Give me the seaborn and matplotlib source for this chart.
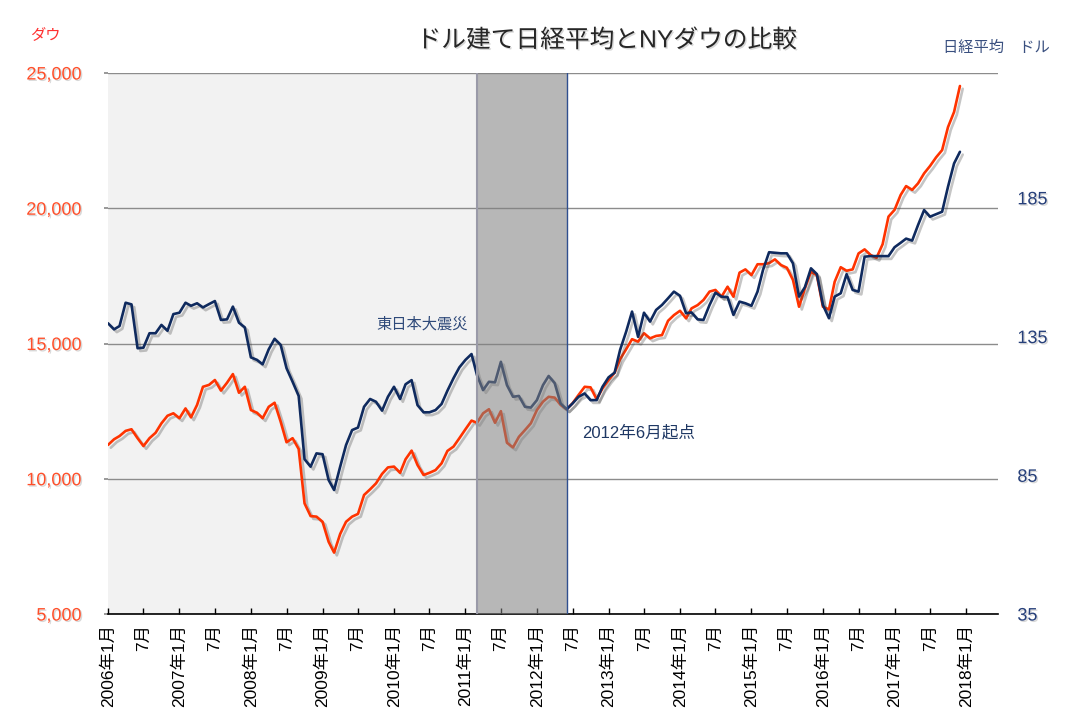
import matplotlib
matplotlib.use("Agg")
import matplotlib.pyplot as plt
import matplotlib.patheffects as pe
import pandas as pd
import seaborn as sns

# NY Dow (left axis), monthly 2006-01 .. 2017-12
dow = [
    11250, 11460, 11580, 11770, 11830, 11500, 11210, 11500, 11700, 12050, 12330, 12420,
    12240, 12600, 12270, 12730, 13400, 13470, 13650, 13260, 13550, 13870, 13180, 13400,
    12540, 12440, 12240, 12660, 12810, 12110, 11350, 11500, 11100, 9090, 8620, 8600,
    8410, 7670, 7270, 7960, 8410, 8600, 8700, 9400, 9610, 9830, 10180, 10420,
    10450, 10220, 10720, 11040, 10510, 10140, 10220, 10320, 10570, 11030, 11190, 11500,
    11830, 12150, 12070, 12420, 12570, 12070, 12500, 11330, 11160, 11550, 11800, 12050,
    12540, 12850, 13030, 13000, 12730, 12570, 12790, 13100, 13400, 13380, 12940, 13340,
    13650, 13920, 14420, 14790, 15160, 15070, 15380, 15190, 15280, 15310, 15840, 16050,
    16210, 15930, 16300, 16420, 16610, 16920, 16980, 16730, 17100, 16730, 17620, 17740,
    17530, 17930, 17930, 17970, 18110, 17900, 17800, 17350, 16360, 17040, 17650, 17530,
    16360, 16260, 17280, 17820, 17690, 17740, 18330, 18480, 18270, 18170, 18670, 19690,
    19940, 20490, 20820, 20680, 20920, 21290, 21560, 21880, 22150, 23000, 23560, 24520,
]

# Nikkei in dollars (right axis)
nikkei_usd = [
    139.8, 137.6, 138.8, 147.2, 146.6, 130.8, 131.0, 136.2, 136.2, 139.2, 137.1, 143.1,
    143.6, 147.2, 146.1, 147.0, 145.5, 146.7, 147.8, 141.0, 141.2, 145.8, 140.0, 138.3,
    127.5, 126.6, 125.0, 130.4, 134.2, 132.0, 123.6, 118.7, 113.6, 90.8, 88.1, 92.9,
    92.6, 83.3, 79.7, 88.1, 95.9, 101.3, 102.2, 109.7, 112.5, 111.5, 108.3, 113.3,
    116.9, 112.5, 117.8, 119.3, 110.3, 107.7, 107.7, 108.5, 110.7, 115.5, 120.0, 123.9,
    126.6, 128.7, 121.1, 115.7, 118.7, 118.5, 125.9, 117.5, 113.3, 113.6, 109.7, 109.4,
    112.1, 117.5, 120.8, 118.2, 110.9, 108.8, 110.9, 113.3, 114.5, 112.1, 112.1, 116.9,
    120.3, 122.0, 130.2, 136.8, 144.0, 134.9, 143.6, 140.4, 144.6, 146.4, 148.8, 151.2,
    149.7, 143.4, 143.7, 141.2, 141.0, 146.4, 150.8, 149.4, 149.2, 142.8, 147.6, 147.0,
    146.1, 151.2, 159.0, 165.4, 165.2, 165.0, 165.0, 161.4, 149.4, 152.8, 159.6, 157.5,
    146.4, 141.6, 149.4, 150.6, 157.5, 151.8, 151.2, 163.8, 164.0, 164.0, 164.0, 164.0,
    167.2, 168.8, 170.3, 169.6, 175.2, 180.6, 178.2, 179.1, 180.0, 189.0, 197.4, 201.6,
]

months = pd.date_range("2006-01-01", periods=len(dow), freq="MS")
tick_dates = pd.date_range("2006-01-01", "2018-01-01", freq="6MS")
tick_labels = [f"{d.year}年1月" if d.month == 1 else "7月" for d in tick_dates]
left_ticks = [5000, 10000, 15000, 20000, 25000]
right_ticks = [35, 85, 135, 185]
quake = pd.Timestamp("2011-03-01")
base = pd.Timestamp("2012-06-01")

df = pd.DataFrame({"month": months, "dow": dow, "nikkei": nikkei_usd})

sns.set_theme(style="white")
plt.rcParams["font.family"] = ["Liberation Sans", "Noto Sans CJK JP"]

fig = plt.figure(figsize=(10.8, 7.2), dpi=100)
ax = fig.add_axes([0.1, 0.1472, 0.824, 0.7514])
ax2 = ax.twinx()

line_fx = [pe.SimpleLineShadow(offset=(2, -2), shadow_color="#404040", alpha=0.3), pe.Normal()]
text_fx = [pe.withSimplePatchShadow(offset=(1, -1), shadow_rgbFace="#909090", alpha=0.35)]

ax.axvspan(months[0], quake, color="#f2f2f2", lw=0, zorder=0)
sns.lineplot(data=df, x="month", y="dow", ax=ax, color="#ff3300", lw=1.9,
             path_effects=line_fx, zorder=2)
sns.lineplot(data=df, x="month", y="nikkei", ax=ax2, color="#0f2a5e", lw=1.9,
             path_effects=line_fx, zorder=2)

# shaded period after the earthquake (drawn over the lines)
ax2.axvspan(quake, base, color="#808080", alpha=0.56, lw=0, zorder=3)
ax2.axvline(quake, color="#9a9aa8", lw=1.5, zorder=3)
ax2.axvline(base, color="#2f4f8f", lw=1, zorder=3)

ax.set_xlim(months[0], pd.Timestamp("2018-06-13"))
ax.set_ylim(5000, 25000)
ax2.set_ylim(35, 230)

ax.set_yticks(left_ticks)
ax.set_yticklabels([f"{v:,}" for v in left_ticks])
ax2.set_yticks(right_ticks)
ax2.set_yticklabels([str(v) for v in right_ticks])
ax.set_xticks(tick_dates)
ax.set_xticklabels(tick_labels, rotation=90, fontsize=12.5, color="black")

ax.tick_params(axis="x", direction="in", length=4, width=1, color="black", pad=7, bottom=True)
ax.tick_params(axis="y", labelsize=13, labelcolor="#ff4f2a", length=3, color="#8c8c8c",
               pad=16, left=True)
ax2.tick_params(axis="y", labelsize=13, labelcolor="#27407a", length=0, pad=14)

ax.yaxis.grid(True, color="#8c8c8c", lw=1)
ax.xaxis.grid(False)
ax.set_axisbelow(True)
for s in ["left", "right", "top"]:
    ax.spines[s].set_visible(False)
for s in ax2.spines.values():
    s.set_visible(False)
ax.spines["bottom"].set_color("black")
ax.spines["bottom"].set_linewidth(1.2)
ax.set_xlabel("")
ax.set_ylabel("")
ax2.set_ylabel("")

for lbl in ax.get_yticklabels() + ax2.get_yticklabels():
    lbl.set_path_effects(text_fx)

fig.text(0.562, 0.944, "ドル建て日経平均とNYダウの比較", ha="center", va="center",
         fontsize=17.8, color="#262626", path_effects=text_fx)
fig.text(0.042, 0.951, "ダウ", ha="center", va="center", fontsize=11, color="#ff3030")
fig.text(0.873, 0.933, "日経平均　ドル", ha="left", va="center", fontsize=11, color="#3a5080")

ax.text(pd.Timestamp("2011-01-13"), 15700, "東日本大震災", ha="right", va="center",
        fontsize=11, color="#2f4a7a")
ax.text(pd.Timestamp("2012-08-20"), 11700, "2012年6月起点", ha="left", va="center",
        fontsize=12, color="#1f3864")

fig.savefig("out.png", dpi=100)
